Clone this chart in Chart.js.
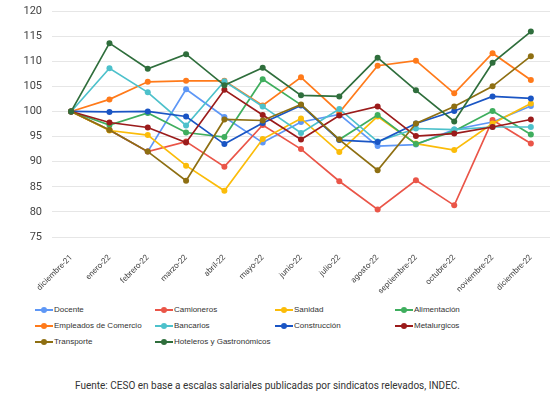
<!DOCTYPE html>
<html>
<head>
<meta charset="utf-8">
<script src="https://cdn.jsdelivr.net/npm/chart.js@4"></script>
<style>
  html, body { margin: 0; padding: 0; background: #fff; }
  #wrap { position: relative; width: 560px; height: 397px; overflow: hidden; }
  #cwrap { position: absolute; left: 0; top: 0; width: 560px; height: 300px; }
  .lg { position: absolute; font-family: "Liberation Sans", Arial, sans-serif; font-size: 8px; color: #333; white-space: nowrap; line-height: 10px; }
  .mk { position: absolute; left: 0; top: 4px; width: 18px; height: 2px; }
  .dot { position: absolute; left: 6px; top: -2px; width: 6px; height: 6px; border-radius: 50%; }
  .lt { position: absolute; left: 19px; top: 0; }
  #foot { position: absolute; left: 0; width: 535px; top: 380px; text-align: center; font-family: Roboto, sans-serif; font-size: 10px; color: #333; }
</style>
</head>
<body>
<div id="wrap">
  <div id="cwrap"><canvas id="c"></canvas></div>
  <div id="legend"></div>
  <div id="foot">Fuente: CESO en base a escalas salariales publicadas por sindicatos relevados, INDEC.</div>
</div>
<script>
const categories = ['diciembre-21','enero-22','febrero-22','marzo-22','abril-22','mayo-22','junio-22','julio-22','agosto-22','septiembre-22','octubre-22','noviembre-22','diciembre-22'];
const seriesNames = ['Docente','Camioneros','Sanidad','Alimentación','Empleados de Comercio','Bancarios','Construcción','Metalurgicos','Transporte','Hoteleros y Gastronómicos'];
const docente      = [100, 96.3, 92.0, 104.4, 98.9, 93.8, 97.9, 99.4, 93.1, 93.4, 96.4, 97.9, 101.1];
const camioneros   = [100, 96.3, 92.0, 94.0, 89.0, 97.3, 92.5, 86.1, 80.5, 86.3, 81.3, 98.3, 93.6];
const sanidad      = [100, 96.2, 95.3, 89.2, 84.2, 94.5, 98.6, 91.9, 99.0, 93.6, 92.3, 97.6, 101.6];
const alimentacion = [100, 97.3, 99.7, 95.8, 94.9, 106.4, 101.3, 94.4, 99.3, 93.5, 96.1, 100.1, 95.4];
const comercio     = [100, 102.4, 105.9, 106.1, 106.1, 101.2, 106.8, 99.8, 109.1, 110.1, 103.6, 111.6, 106.25];
const bancarios    = [100, 108.6, 103.8, 97.2, 106.0, 101.0, 95.7, 100.5, 94.0, 96.6, 96.4, 96.9, 96.9];
const construccion = [100, 99.9, 100.0, 99.0, 93.5, 97.7, 101.2, 94.3, 93.9, 97.6, 100.1, 103.0, 102.6];
const metalurgicos = [100, 97.8, 96.8, 93.8, 104.3, 99.3, 94.4, 99.2, 101.0, 95.1, 95.6, 96.9, 98.4];
const transporte   = [100, 96.3, 92.0, 86.2, 98.4, 98.2, 101.4, 94.4, 88.3, 97.6, 101.0, 105.0, 111.0];
const hoteleros    = [100, 113.6, 108.5, 111.4, 105.2, 108.7, 103.2, 103.0, 110.7, 104.2, 98.0, 109.7, 115.9];
const yTicks = [75, 80, 85, 90, 95, 100, 105, 110, 115, 120];

const seriesData = [docente, camioneros, sanidad, alimentacion, comercio, bancarios, construccion, metalurgicos, transporte, hoteleros];
const colors = ['#5e97f6', '#ea5548', '#fbbc09', '#3fae5e', '#ff7a1a', '#4dc1cb', '#1a55c4', '#9b1b1b', '#8e6f12', '#2f6e3c'];

const datasets = seriesData.map((d, i) => ({
  label: seriesNames[i],
  data: d,
  borderColor: colors[i],
  backgroundColor: colors[i],
  borderWidth: 1.7,
  pointRadius: 3,
  pointHoverRadius: 3,
  pointBorderWidth: 0,
  tension: 0,
  fill: false,
  order: seriesData.length - i
}));

new Chart(document.getElementById('c'), {
  type: 'line',
  data: { labels: categories, datasets },
  options: {
    responsive: true,
    maintainAspectRatio: false,
    animation: false,
    layout: { padding: { top: 11, right: 10, left: 0, bottom: 0 } },
    plugins: { legend: { display: false }, tooltip: { enabled: false } },
    scales: {
      x: {
        offset: true,
        grid: { display: false },
        border: { display: false },
        ticks: {
          autoSkip: false, maxRotation: 45, minRotation: 45, padding: 8,
          color: '#444', font: { family: 'Roboto', size: 8 }
        },
        afterFit: s => { s.height = 63; s.paddingLeft = 0; s.paddingRight = 0; }
      },
      y: {
        min: 75, max: 120,
        afterBuildTicks: s => { s.ticks = yTicks.map(v => ({ value: v })); },
        grid: { color: '#e6e6e6', lineWidth: 1, drawTicks: false },
        border: { display: false },
        ticks: { padding: 10, color: '#444', font: { family: 'Roboto', size: 11 } },
        afterFit: s => { s.width = 52; s.paddingTop = 0; s.paddingBottom = 0; }
      }
    }
  }
});

const legendEl = document.getElementById('legend');
const colX = [35, 155, 275, 395];
const rowY = [305, 321, 337];
seriesNames.forEach((n, i) => {
  const r = Math.floor(i / 4), c = i % 4;
  const item = document.createElement('div');
  item.className = 'lg';
  item.style.left = colX[c] + 'px';
  item.style.top = rowY[r] + 'px';
  item.innerHTML = '<span class="mk" style="background:' + colors[i] + '"><span class="dot" style="background:' + colors[i] + '"></span></span><span class="lt"></span>';
  item.querySelector('.lt').textContent = n;
  legendEl.appendChild(item);
});
</script>
</body>
</html>
